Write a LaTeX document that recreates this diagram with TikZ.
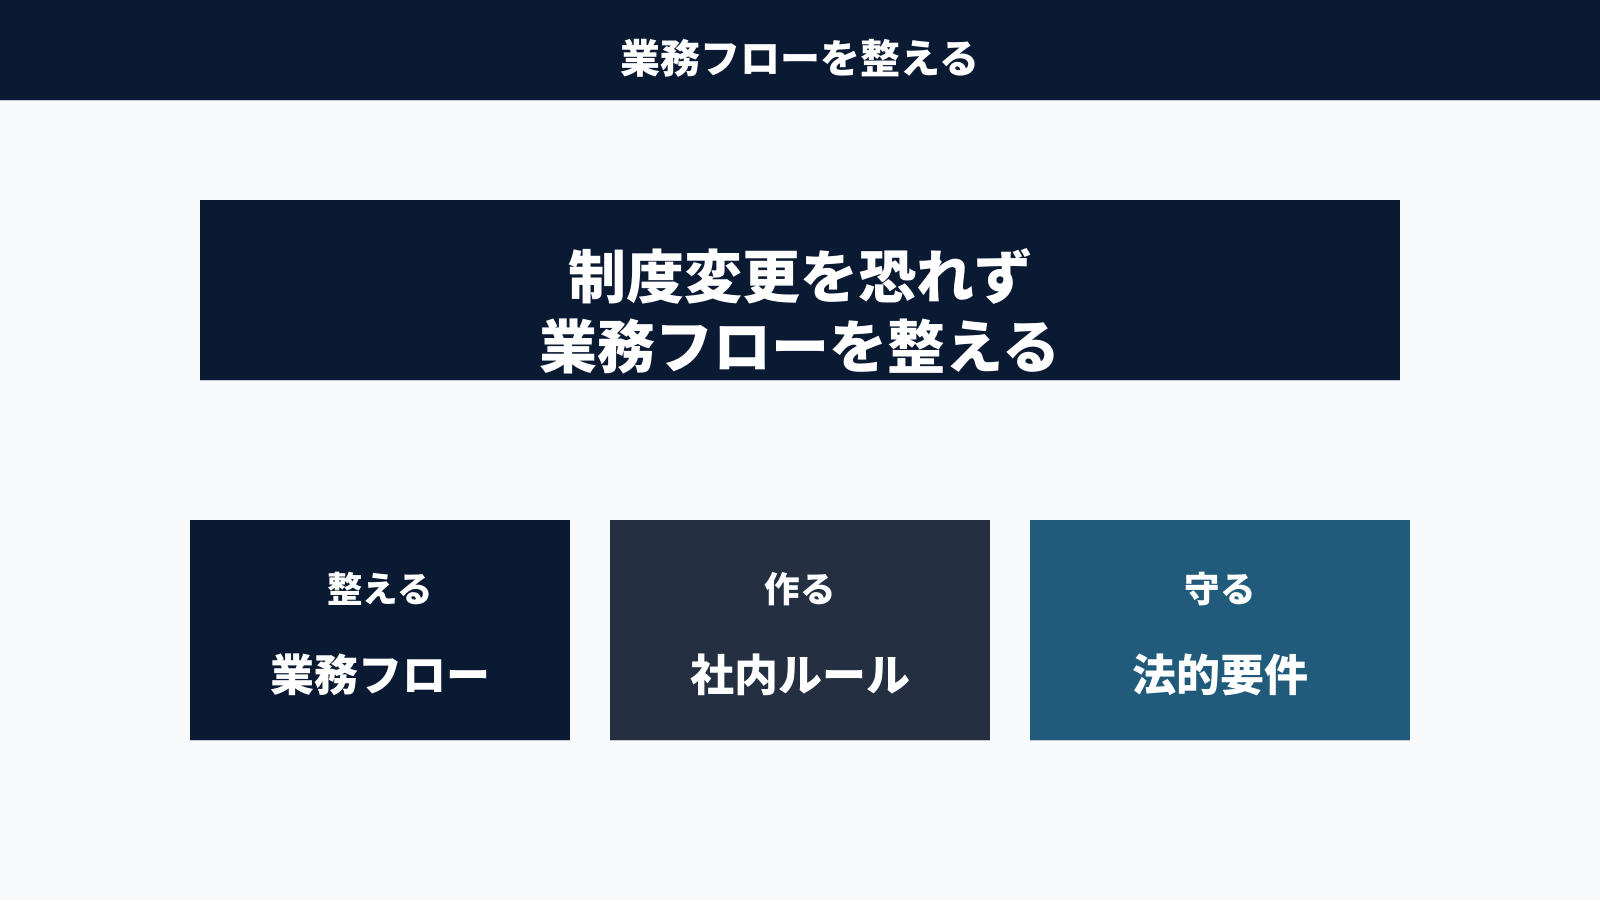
\documentclass[tikz,border=0pt]{standalone}
\usepackage{fontspec}
\usepackage{tikz}
\newfontfamily\jpfont{Noto Sans CJK JP}
\definecolor{navy}{HTML}{0B1A33}
\definecolor{slate}{HTML}{243042}
\definecolor{teal}{HTML}{215B7B}
\definecolor{paper}{HTML}{F7F9FB}
\definecolor{rim}{HTML}{C3CBD4}

\begin{document}
\begin{tikzpicture}[x=1pt, y=-1pt,
    panel/.style={fill=#1, draw=none, inner sep=0pt, minimum width=380, minimum height=220},
    toplabel/.style={text=white, font=\jpfont\bfseries\fontsize{35.5}{38}\selectfont},
    mainlabel/.style={text=white, font=\jpfont\bfseries\fontsize{44}{46}\selectfont}]

    \fill[paper] (0,0) rectangle (1600,900);
    \useasboundingbox (0,0) rectangle (1600,900);

    \fill[navy] (0,0) rectangle (1600,100);
    \draw[rim, line width=1] (0,100) -- (1600,100);
    \node[text=white, font=\jpfont\bfseries\fontsize{40}{44}\selectfont] (title) at (800,58) {業務フローを整える};

    \node[fill=navy, inner sep=0pt, minimum width=1200, minimum height=180] (head) at (800,290) {};
    \draw[rim, line width=1] (head.south west) -- (head.south east);
    \node[text=white, align=center, font=\jpfont\bfseries\fontsize{58}{70}\selectfont] (headtext) at (800,311) {制度変更を恐れず\\業務フローを整える};

    \node[panel=navy] (flow) at (380,630) {};
    \node[panel=slate] (rule) at (800,630) {};
    \node[panel=teal] (law) at (1220,630) {};
    \foreach \p in {flow, rule, law}
        \draw[rim, line width=1] (\p.south west) -- (\p.south east);

    \node[toplabel] (flowtop) at (380,589) {整える};
    \node[mainlabel] (flowmain) at (380,675) {業務フロー};
    \node[toplabel] (ruletop) at (800,589) {作る};
    \node[mainlabel] (rulemain) at (800,675) {社内ルール};
    \node[toplabel] (lawtop) at (1220,589) {守る};
    \node[mainlabel] (lawmain) at (1220,675) {法的要件};

\end{tikzpicture}
\end{document}
